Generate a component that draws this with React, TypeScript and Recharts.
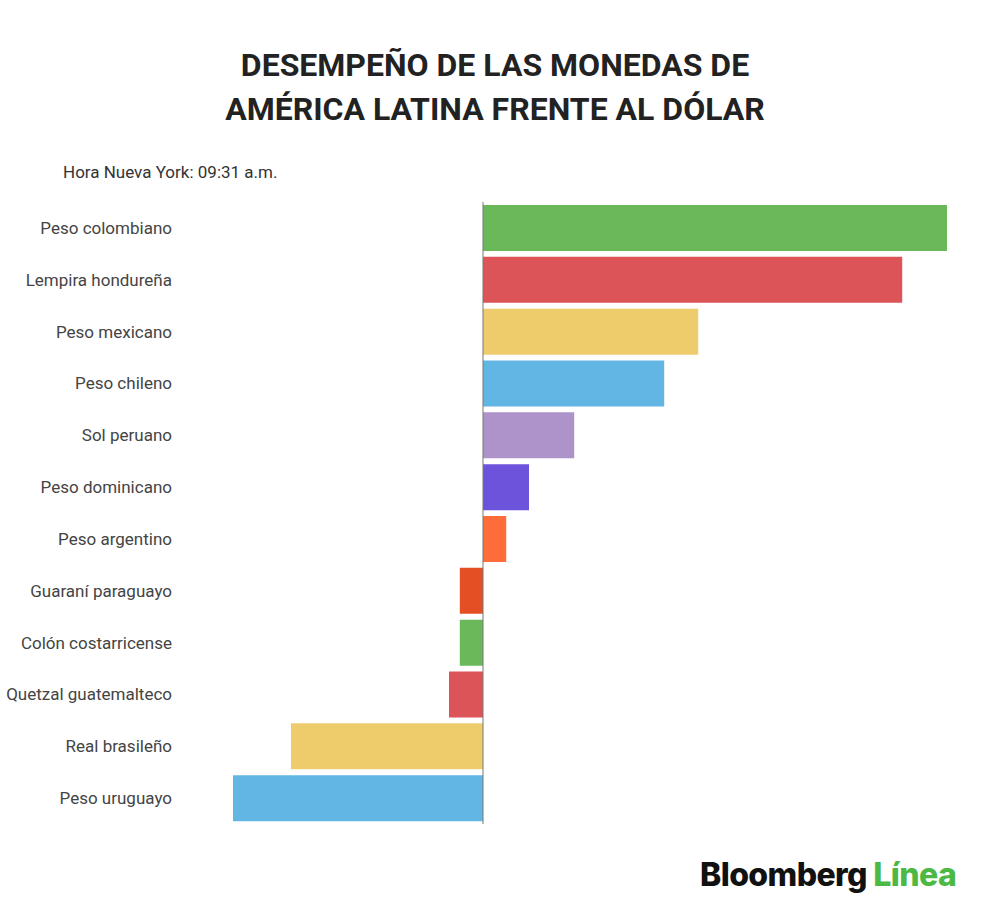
import { BarChart, Bar, XAxis, YAxis, Cell, ReferenceLine } from 'recharts'

const currencies = [
  'Peso colombiano',
  'Lempira hondureña',
  'Peso mexicano',
  'Peso chileno',
  'Sol peruano',
  'Peso dominicano',
  'Peso argentino',
  'Guaraní paraguayo',
  'Colón costarricense',
  'Quetzal guatemalteco',
  'Real brasileño',
  'Peso uruguayo',
]

const changes = [1.16, 1.048, 0.538, 0.453, 0.228, 0.115, 0.058, -0.058, -0.058, -0.085, -0.48, -0.625]

const barColors = [
  '#6ab85a',
  '#dc5358',
  '#eecb6b',
  '#61b6e4',
  '#ad93c9',
  '#6d52dc',
  '#fd6c39',
  '#e54f24',
  '#6ab85a',
  '#dc5358',
  '#eecb6b',
  '#61b6e4',
]

const data = currencies.map((name, i) => ({ name, value: changes[i] }))

const font = 'Roboto, "Noto Sans", sans-serif'

export default function App() {
  return (
    <div style={{ position: 'absolute', left: 0, top: 0, width: 1000, height: 917, background: '#fff', fontFamily: font }}>
      <div style={{ position: 'absolute', top: 43, left: 0, width: 990, textAlign: 'center', fontSize: 32, fontWeight: 700, lineHeight: '44px', color: '#222' }}>
        DESEMPEÑO DE LAS MONEDAS DE<br />AMÉRICA LATINA FRENTE AL DÓLAR
      </div>
      <div style={{ position: 'absolute', top: 162, left: 63, fontSize: 17, color: '#333' }}>
        Hora Nueva York: 09:31 a.m.
      </div>
      <BarChart
        width={1000}
        height={917}
        data={data}
        layout="vertical"
        margin={{ top: 202, right: 37, bottom: 93, left: 0 }}
        barSize={46}
      >
        <XAxis type="number" domain={[-0.75, 1.2]} hide />
        <YAxis
          type="category"
          dataKey="name"
          width={183}
          axisLine={false}
          tickLine={false}
          tickMargin={5}
          tick={{ fontSize: 17, fill: '#444', fontFamily: font }}
          interval={0}
        />
        <Bar dataKey="value" isAnimationActive={false}>
          {data.map((d, i) => (
            <Cell key={d.name} fill={barColors[i]} />
          ))}
        </Bar>
        <ReferenceLine x={0} stroke="#777" strokeWidth={1} />
      </BarChart>
      <div style={{ position: 'absolute', top: 855, left: 700, fontSize: 32, fontWeight: 800, letterSpacing: -0.6, whiteSpace: 'nowrap', fontFamily: 'Inter, Roboto, sans-serif' }}>
        <span style={{ color: '#111' }}>Bloomberg</span>{' '}
        <span style={{ color: '#4cb944' }}>Línea</span>
      </div>
    </div>
  )
}
